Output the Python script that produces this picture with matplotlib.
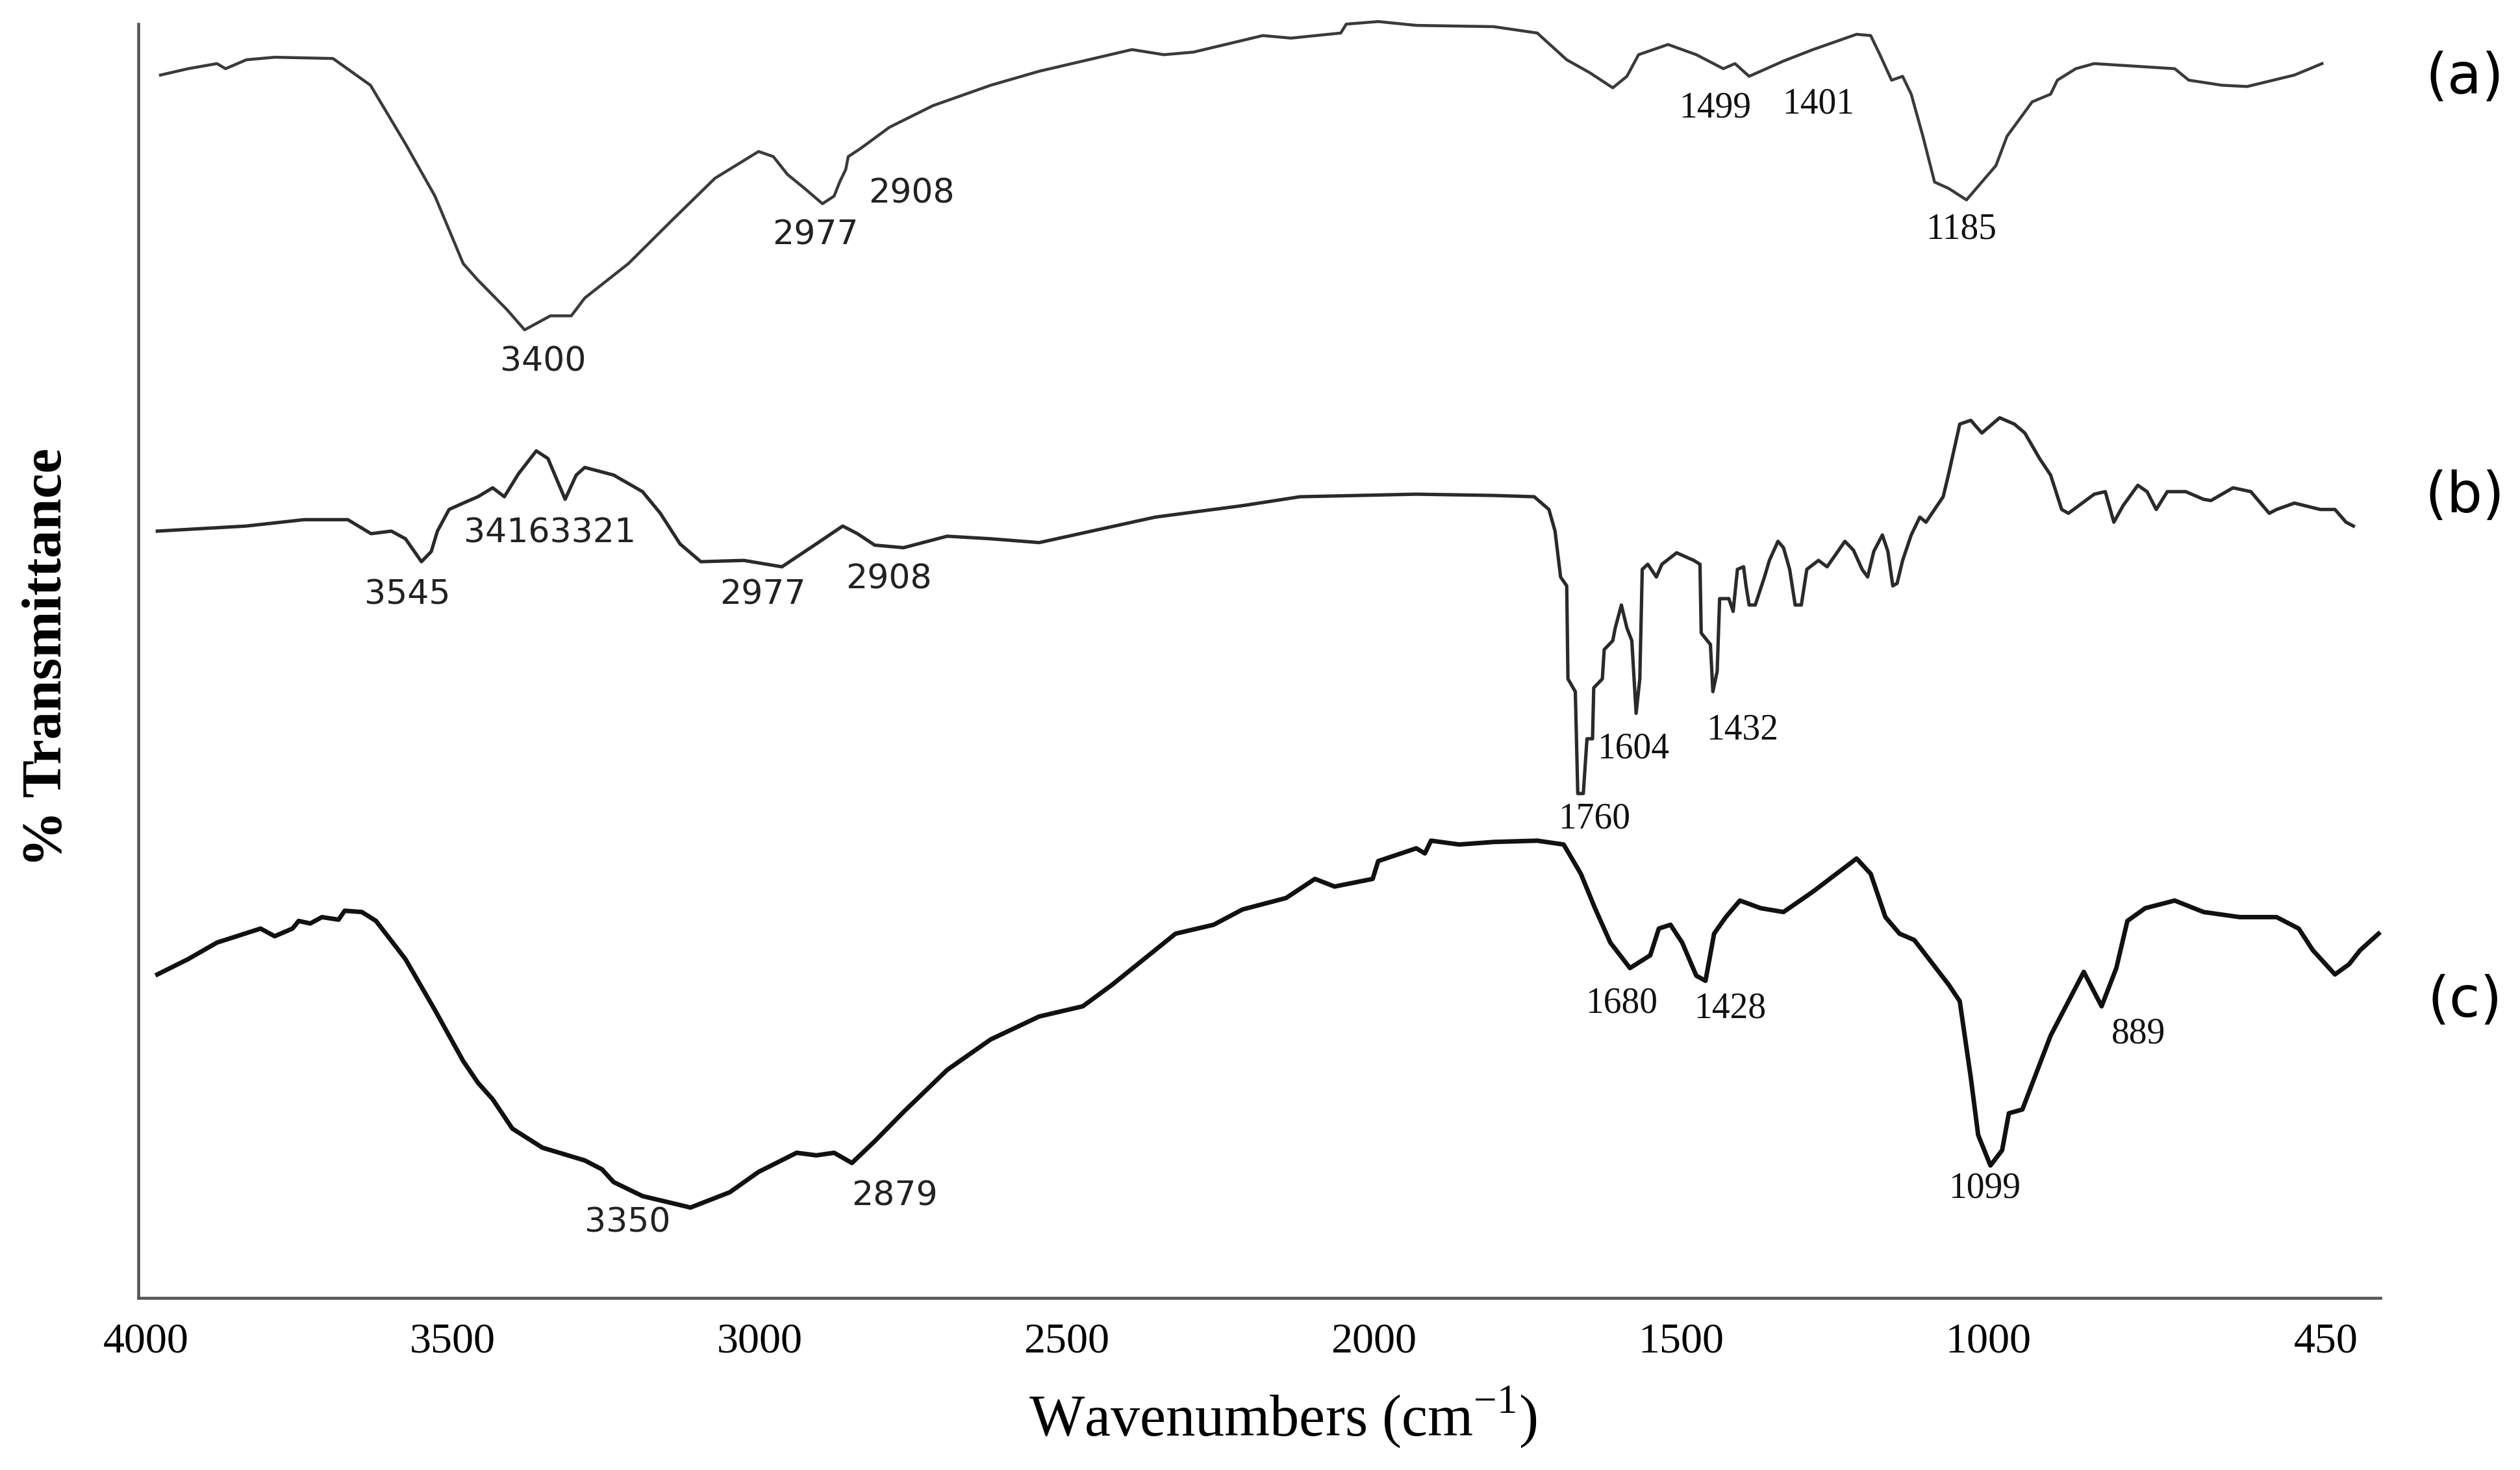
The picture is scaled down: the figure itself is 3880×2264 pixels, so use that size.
import matplotlib
matplotlib.use('Agg')
import matplotlib.pyplot as plt

plt.rcParams['mathtext.fontset'] = 'custom'
plt.rcParams['mathtext.rm'] = 'Liberation Serif'

# spectrum (a)
wn_a = [3976, 3931, 3884, 3870, 3836, 3790, 3695, 3634, 3577, 3529, 3483, 3459, 3412, 3383, 3341, 3307, 3285,
        3214, 3143, 3073, 3002, 2978, 2955, 2927, 2898, 2879, 2870, 2860, 2856, 2837, 2789, 2718, 2624, 2545,
        2394, 2342, 2294, 2181, 2135, 2054, 2045, 1993, 1931, 1805,
        1734, 1686, 1649, 1611, 1588, 1569, 1521, 1475, 1431, 1412, 1389, 1333, 1285, 1214, 1191, 1176, 1157,
        1139, 1125, 1106, 1087, 1064,
        1035, 987, 969, 928, 898, 887, 857, 827, 696, 673, 619, 578, 501, 456]
t_a = [96.0, 96.5, 96.9, 96.5, 97.2, 97.4, 97.3, 95.2, 90.6, 86.5, 81.2, 79.9, 77.6, 76.0, 77.1, 77.1, 78.5,
       81.2, 84.6, 87.9, 90.0, 89.6, 88.2, 87.1, 85.9, 86.5, 87.6, 88.6, 89.6, 90.2, 91.9, 93.6, 95.2, 96.3,
       98.0, 97.6, 97.8, 99.1, 98.9, 99.3, 100.0, 100.2, 99.9, 99.8,
       99.3, 97.2, 96.2, 95.0, 95.9, 97.6, 98.4, 97.6, 96.5, 96.9, 95.9, 97.1, 98.0, 99.2, 99.1, 97.6, 95.6,
       95.9, 94.5, 91.2, 87.6, 87.1,
       86.2, 88.9, 91.2, 93.9, 94.5, 95.6, 96.5, 96.9, 96.5, 95.6, 95.2, 95.1, 96.0, 96.9]

# spectrum (b)
wn_b = [3981, 3836, 3742, 3671, 3633, 3600, 3577, 3551, 3535, 3525, 3506, 3483, 3459, 3435, 3416, 3393, 3364,
        3345, 3317, 3299, 3285, 3238, 3191, 3162, 3130, 3096, 3026, 2964, 2908, 2865, 2841, 2813, 2766, 2695,
        2624, 2545, 2356, 2214, 2120, 1931, 1805,
        1739, 1715, 1705, 1696, 1686, 1684, 1672, 1668, 1659, 1653, 1644, 1642, 1628, 1625, 1611, 1607, 1597,
        1588, 1580, 1573, 1567, 1563, 1554, 1540, 1531, 1507, 1479, 1469, 1467, 1452, 1448, 1441, 1437, 1422,
        1415, 1408, 1398, 1394, 1389, 1379, 1364, 1356, 1342, 1333, 1323, 1314, 1304, 1295, 1276, 1262, 1233,
        1219, 1205, 1196, 1186, 1172, 1163, 1155, 1148, 1139, 1125, 1111, 1101, 1087, 1073, 1064,
        1046, 1028, 1010, 981, 957, 940, 916, 898, 880, 869, 827, 809, 795, 780, 756, 741, 726, 708, 678, 649,
        637, 601, 572, 542, 530, 501, 459, 435, 417, 405]
t_b = [60.2, 60.6, 61.1, 61.1, 60.0, 60.2, 59.6, 57.8, 58.6, 60.2, 61.9, 62.4, 62.9, 63.6, 62.9, 64.7, 66.5,
       65.9, 62.7, 64.6, 65.2, 64.6, 63.3, 61.6, 59.2, 57.8, 57.9, 57.4, 59.2, 60.6, 60.0, 59.1, 58.9, 59.8,
       59.6, 59.3, 61.3, 62.2, 62.9, 63.1, 63.0,
       62.9, 61.9, 60.2, 56.6, 55.9, 48.6, 47.6, 39.6, 39.6, 43.9, 43.9, 47.9, 48.6, 50.9, 51.6, 52.6, 54.4,
       52.6, 51.6, 45.9, 48.6, 57.2, 57.6, 56.6, 57.6, 58.5, 57.9, 57.6, 52.2, 51.3, 47.6, 49.2, 54.9, 54.9,
       53.9, 57.2, 57.4, 55.9, 54.4, 54.4, 56.6, 57.9, 59.4, 58.9, 57.2, 54.4, 54.4, 57.2, 57.9, 57.4, 59.4,
       58.7, 57.2, 56.6, 58.6, 59.9, 58.6, 55.9, 56.1, 57.9, 59.9, 61.3, 60.9, 61.9, 62.9, 64.7,
       68.6, 68.9, 67.9, 69.1, 68.6, 67.9, 65.9, 64.6, 61.9, 61.6, 63.1, 63.3, 60.9, 62.2, 63.8, 63.3, 61.9,
       63.3, 63.3, 62.7, 62.6, 63.6, 63.3, 61.6, 61.9, 62.4, 61.9, 61.9, 60.9, 60.6]

# spectrum (c)
wn_c = [3981, 3931, 3884, 3813, 3790, 3761, 3751, 3732, 3713, 3686, 3676, 3648, 3625, 3577, 3529, 3483, 3459,
        3435, 3403, 3354, 3285, 3257, 3238, 3191, 3130, 3113, 3049, 3002, 2940, 2908, 2879, 2850, 2813, 2766,
        2695, 2624, 2545, 2474, 2426, 2323, 2261, 2214, 2143, 2096, 2064, 2002, 1993, 1931, 1917, 1907, 1861,
        1805, 1734, 1691, 1663, 1640, 1615, 1583, 1550, 1536, 1517, 1498, 1475, 1460, 1446, 1427, 1404, 1370,
        1333, 1285, 1214, 1191, 1167, 1144, 1120, 1096, 1064, 1046, 1028, 1016, 996, 977, 966, 944, 898, 844,
        815, 791, 773, 744, 696, 649, 590, 530, 494, 471, 435, 412, 394, 364]
t_c = [25.4, 26.6, 27.9, 29.0, 28.4, 29.0, 29.6, 29.4, 29.9, 29.7, 30.4, 30.3, 29.6, 26.6, 22.6, 18.6, 16.9,
       15.6, 13.3, 11.8, 10.8, 10.1, 9.1, 8.0, 7.3, 7.1, 8.3, 9.9, 11.4, 11.2, 11.4, 10.6, 12.3, 14.6,
       17.9, 20.3, 22.1, 22.9, 24.6, 28.6, 29.3, 30.5, 31.4, 32.9, 32.3, 32.9, 34.3, 35.3, 34.9, 35.9, 35.6,
       35.8, 35.9, 35.6, 33.3, 30.6, 27.9, 25.9, 26.9, 29.0, 29.3, 27.9, 25.3, 24.9, 28.6, 29.9, 31.2, 30.6,
       30.3, 31.9, 34.5, 33.3, 29.9, 28.6, 28.1, 26.6, 24.6, 23.3, 17.3, 12.8, 10.4, 11.6, 14.5, 14.8, 20.6,
       25.6, 22.9, 25.9, 29.6, 30.6, 31.2, 30.3, 29.9, 29.9, 29.0, 27.3, 25.4, 26.2, 27.3, 28.6]

tick_vals = [4000, 3500, 3000, 2500, 2000, 1500, 1000, 450]
tick_labels = ['4000', '3500', '3000', '2500', '2000', '1500', '1000', '450']

# peak labels: (text, wavenumber, %T) where the label sits
peaks_sans = [('3400', 3353, 73.5), ('2977', 2910, 83.4), ('2908', 2753, 86.7),
              ('3545', 3574, 55.2), ('34163321', 3342, 60.0), ('2977', 2995, 55.2), ('2908', 2790, 56.4),
              ('3350', 3215, 5.9), ('2879', 2780, 8.0)]
peaks_serif = [('1499', 1444, 93.4), ('1401', 1276, 93.7), ('1185', 1044, 83.9),
               ('1760', 1641, 37.6), ('1604', 1578, 43.1), ('1432', 1400, 44.6),
               ('1680', 1597, 23.1), ('1428', 1420, 22.7), ('1099', 1006, 8.6), ('889', 755, 20.7)]
curve_names = ['(a)', '(b)', '(c)']

fig = plt.figure(figsize=(15.52, 9.056), dpi=250)
ax = fig.add_axes([0.0549, 0.117, 0.8897, 0.8666])

ax.plot(wn_a, t_a, color='#3a3a3a', lw=1.3, clip_on=False, solid_joinstyle='round')
ax.plot(wn_b, t_b, color='#2a2a2a', lw=1.5, clip_on=False, solid_joinstyle='round')
ax.plot(wn_c, t_c, color='#111111', lw=2.0, clip_on=False, solid_joinstyle='round')

ax.set_xlim(4012, 361)
ax.set_ylim(0, 100)

for s in ['top', 'right']:
    ax.spines[s].set_visible(False)
for s in ['left', 'bottom']:
    ax.spines[s].set_color('#555555')
    ax.spines[s].set_linewidth(1.3)

ax.set_yticks([])
ax.set_xticks(tick_vals)
ax.set_xticklabels(tick_labels, fontfamily='Liberation Serif', fontsize=19)
ax.tick_params(axis='x', length=0, pad=11)

for txt, x, y in peaks_sans:
    ax.text(x, y, txt, ha='center', va='center', fontsize=15, family='DejaVu Sans', color='#222222')
for txt, x, y in peaks_serif:
    ax.text(x, y, txt, ha='center', va='center', fontsize=16, family='Liberation Serif', color='#111111')

for name, ypos in zip(curve_names, [0.947, 0.662, 0.319]):
    fig.text(0.978, ypos, name, ha='center', va='center', fontsize=25, family='DejaVu Sans')

fig.text(0.509, 0.036, r'Wavenumbers (cm$^{\mathrm{-1}}$)', ha='center', va='center',
         fontsize=26, family='Liberation Serif')
fig.text(0.019, 0.553, '% Transmittance', ha='center', va='center', rotation=90,
         fontsize=25, family='Liberation Serif', fontweight='bold')

fig.savefig('out.png', dpi=250)
